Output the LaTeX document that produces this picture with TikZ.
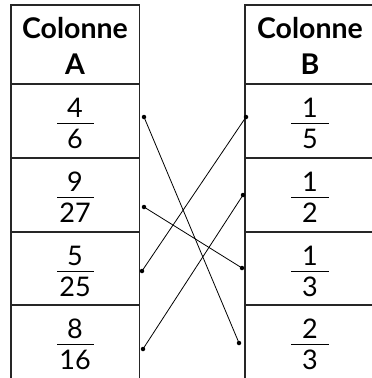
\documentclass[tikz,border=0pt]{standalone}
\usepackage{fontspec}
\setmainfont{Lato}
\begin{document}
\begin{tikzpicture}[x=1pt,y=-1pt,
  grid/.style={draw=black!85,line width=1.1pt},
  head/.style={font=\fontsize{28.5}{36}\selectfont\bfseries,align=center,anchor=base},
  num/.style={font=\fontsize{27}{30}\selectfont,anchor=base,inner sep=0pt},
  bar/.style={line width=0.9pt},
  link/.style={line width=0.8pt},
  pt/.style={circle,fill=black,inner sep=0pt,minimum size=4.5pt}]
\useasboundingbox (0,0) rectangle (372,378);
% left table
\draw[grid] (11,378) -- (11,5) -- (139.5,5) -- (139.5,378);
\foreach \y in {84,158,232,305} \draw[grid] (11,\y) -- (139.5,\y);
% right table
\draw[grid] (245,378) -- (245,5) -- (372,5);
\foreach \y in {84,158,232,305} \draw[grid] (245,\y) -- (372,\y);
% headers
\node[head] (hA1) at (75,38) {Colonne};
\node[head] (hA2) at (75,74) {A};
\node[head] (hB1) at (310,38) {Colonne};
\node[head] (hB2) at (310,74) {B};
% fractions
\foreach \n/\d/\b/\c in {4/6/123/a1,9/27/197/a2,5/25/271/a3,8/16/344/a4}{
  \node[num] (\c n) at (75,\b-6) {\n};
  \node[num] (\c d) at (75,\b+25) {\d};
  \draw[bar] (57,\b) -- (94,\b);
}
\foreach \n/\d/\b/\c in {1/5/123/b1,1/2/197/b2,1/3/271/b3,2/3/344/b4}{
  \node[num] (\c n) at (310,\b-6) {\n};
  \node[num] (\c d) at (310,\b+25) {\d};
  \draw[bar] (291,\b) -- (329,\b);
}
% dots
\node[pt] (A1) at (144,117) {};
\node[pt] (A2) at (144,207) {};
\node[pt] (A3) at (142,271) {};
\node[pt] (A4) at (143,349) {};
\node[pt] (B1) at (246,117) {};
\node[pt] (B2) at (243,195) {};
\node[pt] (B3) at (242,268) {};
\node[pt] (B4) at (239,343) {};
\draw[link] (A1.center) -- (B4.center);
\draw[link] (A2.center) -- (B3.center);
\draw[link] (A3.center) -- (B1.center);
\draw[link] (A4.center) -- (B2.center);
\end{tikzpicture}
\end{document}
